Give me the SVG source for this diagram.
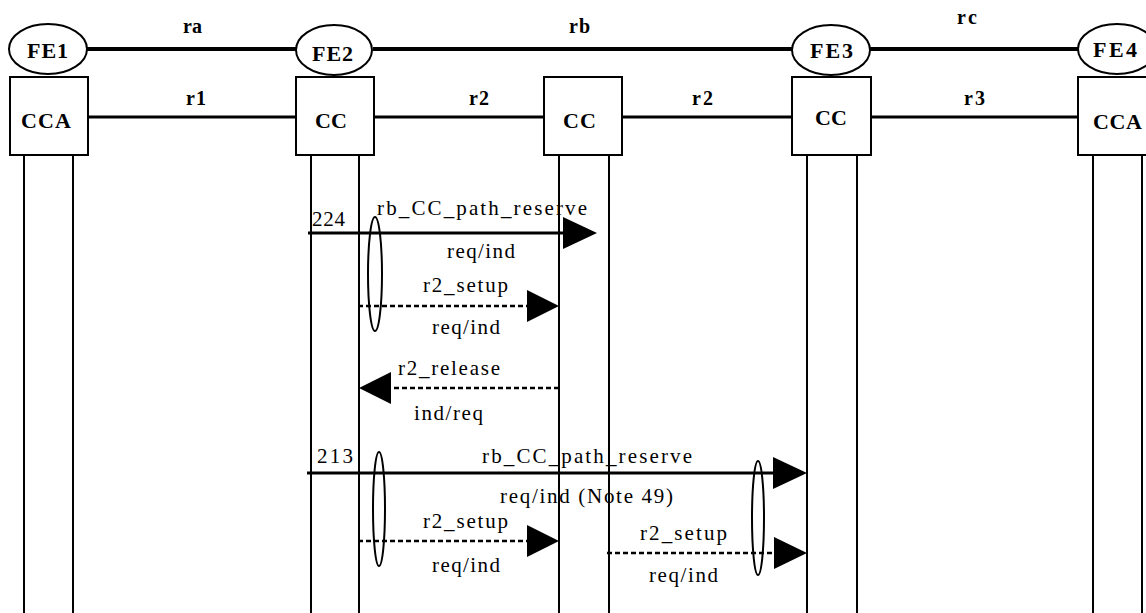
<svg xmlns="http://www.w3.org/2000/svg" width="1146" height="613" viewBox="0 0 1146 613">
<style>
.bg{fill:#fff}
.box{fill:#fff;stroke:#000;stroke-width:2}
.fe{fill:#fff;stroke:#000;stroke-width:2}
.life{stroke:#000;stroke-width:2;fill:none}
.lk{stroke:#000;stroke-width:4;fill:none}
.lk2{stroke:#000;stroke-width:3;fill:none}
.sol{stroke:#000;stroke-width:3;fill:none}
.dash{stroke:#000;stroke-width:2.5;stroke-dasharray:5 3;fill:none}
.head{fill:#000;stroke:none}
.ov{fill:none;stroke:#000;stroke-width:2}
text{font-family:'Liberation Serif','DejaVu Serif',serif;fill:#000}
.b{font-weight:bold;font-size:22px}
.bl{font-weight:bold;font-size:20px}
.m{font-weight:normal;font-size:21px}
</style>
<rect class="bg" x="0" y="0" width="1146" height="613"/>

<g id="connectors">
  <line class="lk" x1="87" y1="49" x2="296" y2="49"/>
  <line class="lk" x1="373" y1="49" x2="793" y2="49"/>
  <line class="lk" x1="870" y1="49" x2="1079" y2="49"/>
  <line class="lk2" x1="89" y1="117" x2="296" y2="117"/>
  <line class="lk2" x1="374" y1="117" x2="543" y2="117"/>
  <line class="lk2" x1="622" y1="117" x2="793" y2="117"/>
  <line class="lk2" x1="871" y1="117" x2="1078" y2="117"/>
  <line class="sol" x1="308" y1="233" x2="566" y2="233"/>
  <polygon class="head" points="563,217 597,233 563,249"/>
  <line class="dash" x1="358" y1="306" x2="530" y2="306"/>
  <polygon class="head" points="527,290 559,306 527,322"/>
  <line class="dash" x1="559" y1="388" x2="388" y2="388"/>
  <polygon class="head" points="391,372 359,388 391,404"/>
  <line class="sol" x1="307" y1="473" x2="776" y2="473"/>
  <polygon class="head" points="773,457 807,473 773,489"/>
  <line class="dash" x1="358" y1="541" x2="530" y2="541"/>
  <polygon class="head" points="527,525 559,541 527,557"/>
  <line class="dash" x1="607" y1="553" x2="777" y2="553"/>
  <polygon class="head" points="774,537 807,553 774,569"/>
  <ellipse class="ov" cx="375" cy="274" rx="7" ry="57"/>
  <ellipse class="ov" cx="379" cy="509" rx="6" ry="57"/>
  <ellipse class="ov" cx="758" cy="518" rx="6" ry="57"/>
</g>

<g id="link-labels">
  <text class="bl" x="183" y="33" textLength="19" lengthAdjust="spacing">ra</text>
  <text class="bl" x="569" y="33" textLength="21" lengthAdjust="spacing">rb</text>
  <text class="bl" x="957" y="24" textLength="20" lengthAdjust="spacing">rc</text>
  <text class="bl" x="186" y="105" textLength="20" lengthAdjust="spacing">r1</text>
  <text class="bl" x="469" y="105" textLength="20" lengthAdjust="spacing">r2</text>
  <text class="bl" x="692" y="105" textLength="21" lengthAdjust="spacing">r2</text>
  <text class="bl" x="964" y="105" textLength="21" lengthAdjust="spacing">r3</text>
</g>

<g id="fe1">
  <line class="life" x1="24" y1="155" x2="24" y2="613"/>
  <line class="life" x1="73" y1="155" x2="73" y2="613"/>
  <rect class="box" x="10" y="77" width="78" height="78"/>
  <text class="b" x="21" y="128" textLength="50" lengthAdjust="spacing">CCA</text>
  <ellipse class="fe" cx="48" cy="49" rx="39" ry="25"/>
  <text class="b" x="27" y="58" textLength="41" lengthAdjust="spacing">FE1</text>
</g>

<g id="fe2">
  <line class="life" x1="311" y1="155" x2="311" y2="613"/>
  <line class="life" x1="359" y1="155" x2="359" y2="613"/>
  <rect class="box" x="296" y="77" width="78" height="78"/>
  <text class="b" x="315" y="128" textLength="32" lengthAdjust="spacing">CC</text>
  <ellipse class="fe" cx="334" cy="50" rx="38" ry="25"/>
  <text class="b" x="312" y="61" textLength="41" lengthAdjust="spacing">FE2</text>
</g>

<g id="cc-mid">
  <line class="life" x1="559" y1="155" x2="559" y2="613"/>
  <line class="life" x1="609" y1="155" x2="609" y2="613"/>
  <rect class="box" x="544" y="77" width="78" height="78"/>
  <text class="b" x="563" y="128" textLength="33" lengthAdjust="spacing">CC</text>
</g>

<g id="fe3">
  <line class="life" x1="807" y1="155" x2="807" y2="613"/>
  <line class="life" x1="857" y1="155" x2="857" y2="613"/>
  <rect class="box" x="792" y="77" width="79" height="78"/>
  <text class="b" x="815" y="125" textLength="32" lengthAdjust="spacing">CC</text>
  <ellipse class="fe" cx="831" cy="50" rx="39" ry="25"/>
  <text class="b" x="810" y="58" textLength="43" lengthAdjust="spacing">FE3</text>
</g>

<g id="fe4">
  <line class="life" x1="1093" y1="155" x2="1093" y2="613"/>
  <line class="life" x1="1142" y1="155" x2="1142" y2="613"/>
  <rect class="box" x="1078" y="77" width="78" height="78"/>
  <text class="b" x="1093" y="129" textLength="49" lengthAdjust="spacing">CCA</text>
  <ellipse class="fe" cx="1117" cy="49" rx="39" ry="25"/>
  <text class="b" x="1093" y="57" textLength="44" lengthAdjust="spacing">FE4</text>
</g>

<g id="message-labels">
  <text class="m" x="312" y="226" textLength="33" lengthAdjust="spacing">224</text>
  <text class="m" x="377" y="215" textLength="210" lengthAdjust="spacing">rb_CC_path_reserve</text>
  <text class="m" x="447" y="258" textLength="68" lengthAdjust="spacing">req/ind</text>
  <text class="m" x="423" y="292" textLength="85" lengthAdjust="spacing">r2_setup</text>
  <text class="m" x="432" y="334" textLength="68" lengthAdjust="spacing">req/ind</text>
  <text class="m" x="398" y="375" textLength="102" lengthAdjust="spacing">r2_release</text>
  <text class="m" x="414" y="420" textLength="69" lengthAdjust="spacing">ind/req</text>
  <text class="m" x="317" y="463" textLength="36" lengthAdjust="spacing">213</text>
  <text class="m" x="482" y="463" textLength="210" lengthAdjust="spacing">rb_CC_path_reserve</text>
  <text class="m" x="500" y="503" textLength="173" lengthAdjust="spacing">req/ind (Note 49)</text>
  <text class="m" x="423" y="528" textLength="85" lengthAdjust="spacing">r2_setup</text>
  <text class="m" x="432" y="572" textLength="68" lengthAdjust="spacing">req/ind</text>
  <text class="m" x="640" y="540" textLength="87" lengthAdjust="spacing">r2_setup</text>
  <text class="m" x="649" y="582" textLength="69" lengthAdjust="spacing">req/ind</text>
</g>
</svg>
